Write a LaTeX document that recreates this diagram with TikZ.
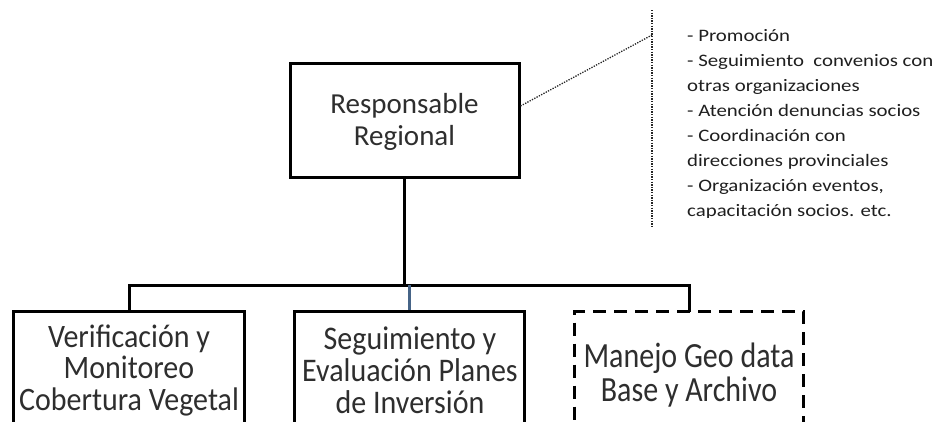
\documentclass[tikz,border=0pt]{standalone}
\usepackage{fontspec}
\usepackage{graphicx}
\setmainfont{Carlito}
\usetikzlibrary{calc}
\newcommand{\mlines}[2]{\scalebox{1}[#1]{\begin{tabular}[t]{@{}c@{}}#2\end{tabular}}}
\newcommand{\nlines}[1]{\scalebox{1.19}[1]{\begin{tabular}[t]{@{}l@{}}#1\end{tabular}}}
\begin{document}
\begin{tikzpicture}[x=1pt,y=-1pt,
  box/.style={draw=black,line width=3pt,inner sep=0pt},
  boxtext/.style={anchor=base,inner sep=0pt,text=black!82,
    font=\fontsize{30}{28}\selectfont},
  toptext/.style={anchor=base,inner sep=0pt,text=black!82,
    font=\fontsize{29}{32}\selectfont},
  conn/.style={draw=black,line width=3pt},
  note/.style={anchor=base west,inner sep=0pt,
    font=\fontsize{17.5}{25}\selectfont,text=black!88},
  dotline/.style={draw=black!85,line width=1.3pt,dash pattern=on 1.3pt off 1.3pt}]
\useasboundingbox (0,0) rectangle (936,421);
\clip (0,0) rectangle (936,421);
% boxes
\node[box,minimum width=229pt,minimum height=114pt] (rr) at (404.5,120) {};
\node[box,minimum width=231pt,minimum height=119pt] (b1) at (129,371) {};
\node[box,minimum width=230pt,minimum height=119pt] (b2) at (409.5,371) {};
\node[box,dash pattern=on 13pt off 8pt,minimum width=229pt,minimum height=119pt] (b3) at (689,371) {};
% texts
\node[toptext] (rrt) at (404.5,113) {\begin{tabular}[t]{@{}c@{}}Responsable\\Regional\end{tabular}};
\node[boxtext] (b1t) at (129,347) {\mlines{1.09}{Verificación y\\Monitoreo\\Cobertura Vegetal}};
\node[boxtext] (b2t) at (410,349.5) {\mlines{1.1}{Seguimiento y\\Evaluación Planes\\de Inversión}};
\node[boxtext] (b3t) at (689,367) {\mlines{1.18}{Manejo Geo data\\Base y Archivo}};
% connectors
\coordinate (hj) at (rr.south |- 0,285);
\coordinate (hl) at (b1.north |- hj);
\coordinate (hr) at (b3.north |- hj);
\coordinate (hm) at (b2.north |- hj);
\draw[conn] (rr.south) -- (hj);
\draw[conn,line cap=rect] (b1.north) -- (hl) -- (hr) -- (b3.north);
\draw[draw={rgb,255:red,70;green,100;blue,135},line width=2.4pt] (hm) -- (b2.north);
% callout
\coordinate (ct) at (652,10);
\coordinate (cb) at (652,228);
\coordinate (cj) at (652,35);
\coordinate (ds) at ([yshift=14pt]rr.east);
\draw[dotline] (ct) -- (cb);
\draw[dotline] (ds) -- (cj);
\begin{scope}
\clip (670,0) rectangle (936,217);
\node[note] (txt) at (687,41) {\nlines{- Promoción\\- Seguimiento\ \ convenios con\\otras organizaciones\\- Atención denuncias socios\\- Coordinación con\\direcciones provinciales\\- Organización eventos,\\capacitación socios. etc.}};
\end{scope}
\end{tikzpicture}
\end{document}
